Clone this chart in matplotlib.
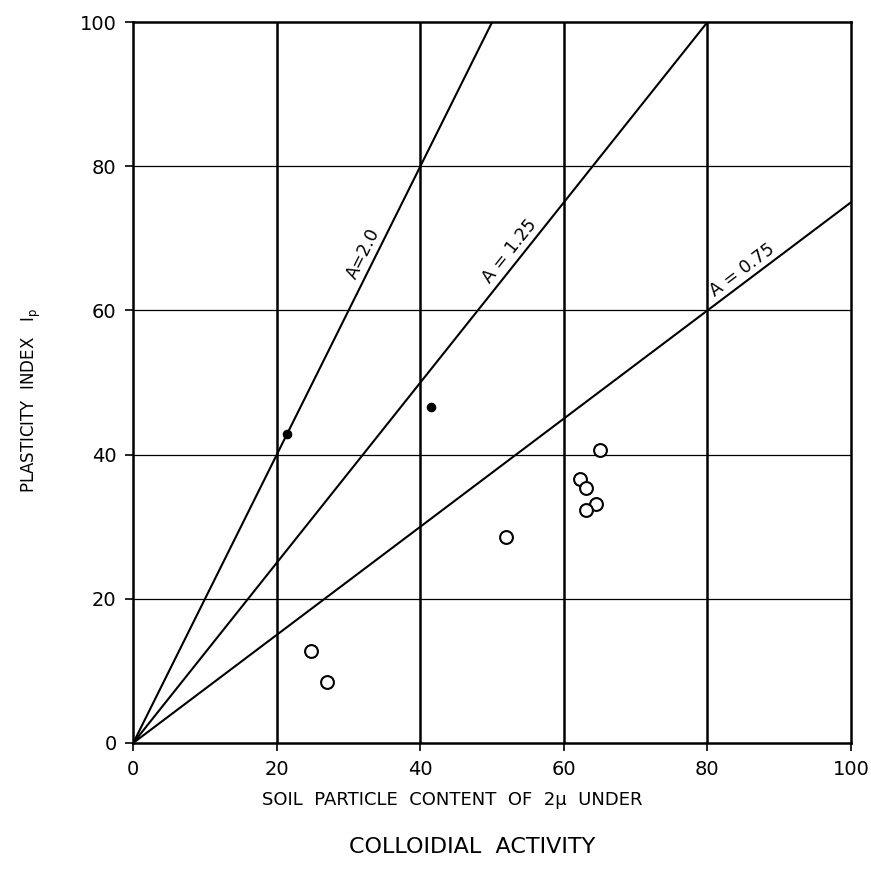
import numpy as np
import matplotlib
matplotlib.use("Agg")
import matplotlib.pyplot as plt

# activity lines  Ip = A * clay
activities = [2.0, 1.25, 0.75]
act_labels = ["A=2.0", "A = 1.25", "A = 0.75"]
label_x = [33.6, 53.8, 85.8]

# filled points
filled_x = [21.4, 41.5]
filled_y = [42.8, 46.6]

# open points
open_x = [24.8, 27.0, 51.9, 62.3, 63.1, 64.5, 63.1, 65.1]
open_y = [12.7, 8.4, 28.6, 36.6, 35.4, 33.2, 32.3, 40.6]

ticks = [0, 20, 40, 60, 80, 100]

fig = plt.figure(figsize=(8.71, 8.85), dpi=100)
ax = fig.add_axes([0.153, 0.1605, 0.824, 0.8145])

ax.set_xlim(0, 100)
ax.set_ylim(0, 100)

for t in ticks[1:-1]:
    ax.axvline(t, color="black", lw=1.8, zorder=1)
    ax.axhline(t, color="black", lw=0.9, zorder=1)

xs = np.array([0, 100])
for a, lab, lx in zip(activities, act_labels, label_x):
    ax.plot(xs, a * xs, color="black", lw=1.5, zorder=2)
    # rotate text along the line in screen space, sit it just above
    p0 = ax.transData.transform((0, 0))
    p1 = ax.transData.transform((10, 10 * a))
    ang = np.degrees(np.arctan2(p1[1] - p0[1], p1[0] - p0[0]))
    r = np.radians(ang)
    ax.annotate(lab, (lx, a * lx), xytext=(-2.0 * np.sin(r), 2.0 * np.cos(r)),
                textcoords="offset points", rotation=ang, rotation_mode="anchor",
                ha="center", va="bottom", fontsize=12.5, zorder=3)

ax.scatter(open_x, open_y, s=85, facecolors="white", edgecolors="black",
           linewidths=1.5, zorder=4)
ax.scatter(filled_x, filled_y, s=35, color="black", zorder=4)

ax.set_xticks(ticks)
ax.set_yticks(ticks)
ax.tick_params(direction="out", length=6, width=1.2, labelsize=14, pad=6)
for s in ax.spines.values():
    s.set_linewidth(1.8)

fig.text(452 / 871, 1 - 800 / 885, "SOIL  PARTICLE  CONTENT  OF  2\u03bc  UNDER",
         ha="center", va="center", fontsize=13)
fig.text(472 / 871, 1 - 847 / 885, "COLLOIDIAL  ACTIVITY",
         ha="center", va="center", fontsize=16)
fig.text(31 / 871, 1 - 400 / 885, "PLASTICITY  INDEX   I$_{\\rm p}$",
         rotation=90, ha="center", va="center", fontsize=12)

fig.savefig("out.png", dpi=100, facecolor="white")
